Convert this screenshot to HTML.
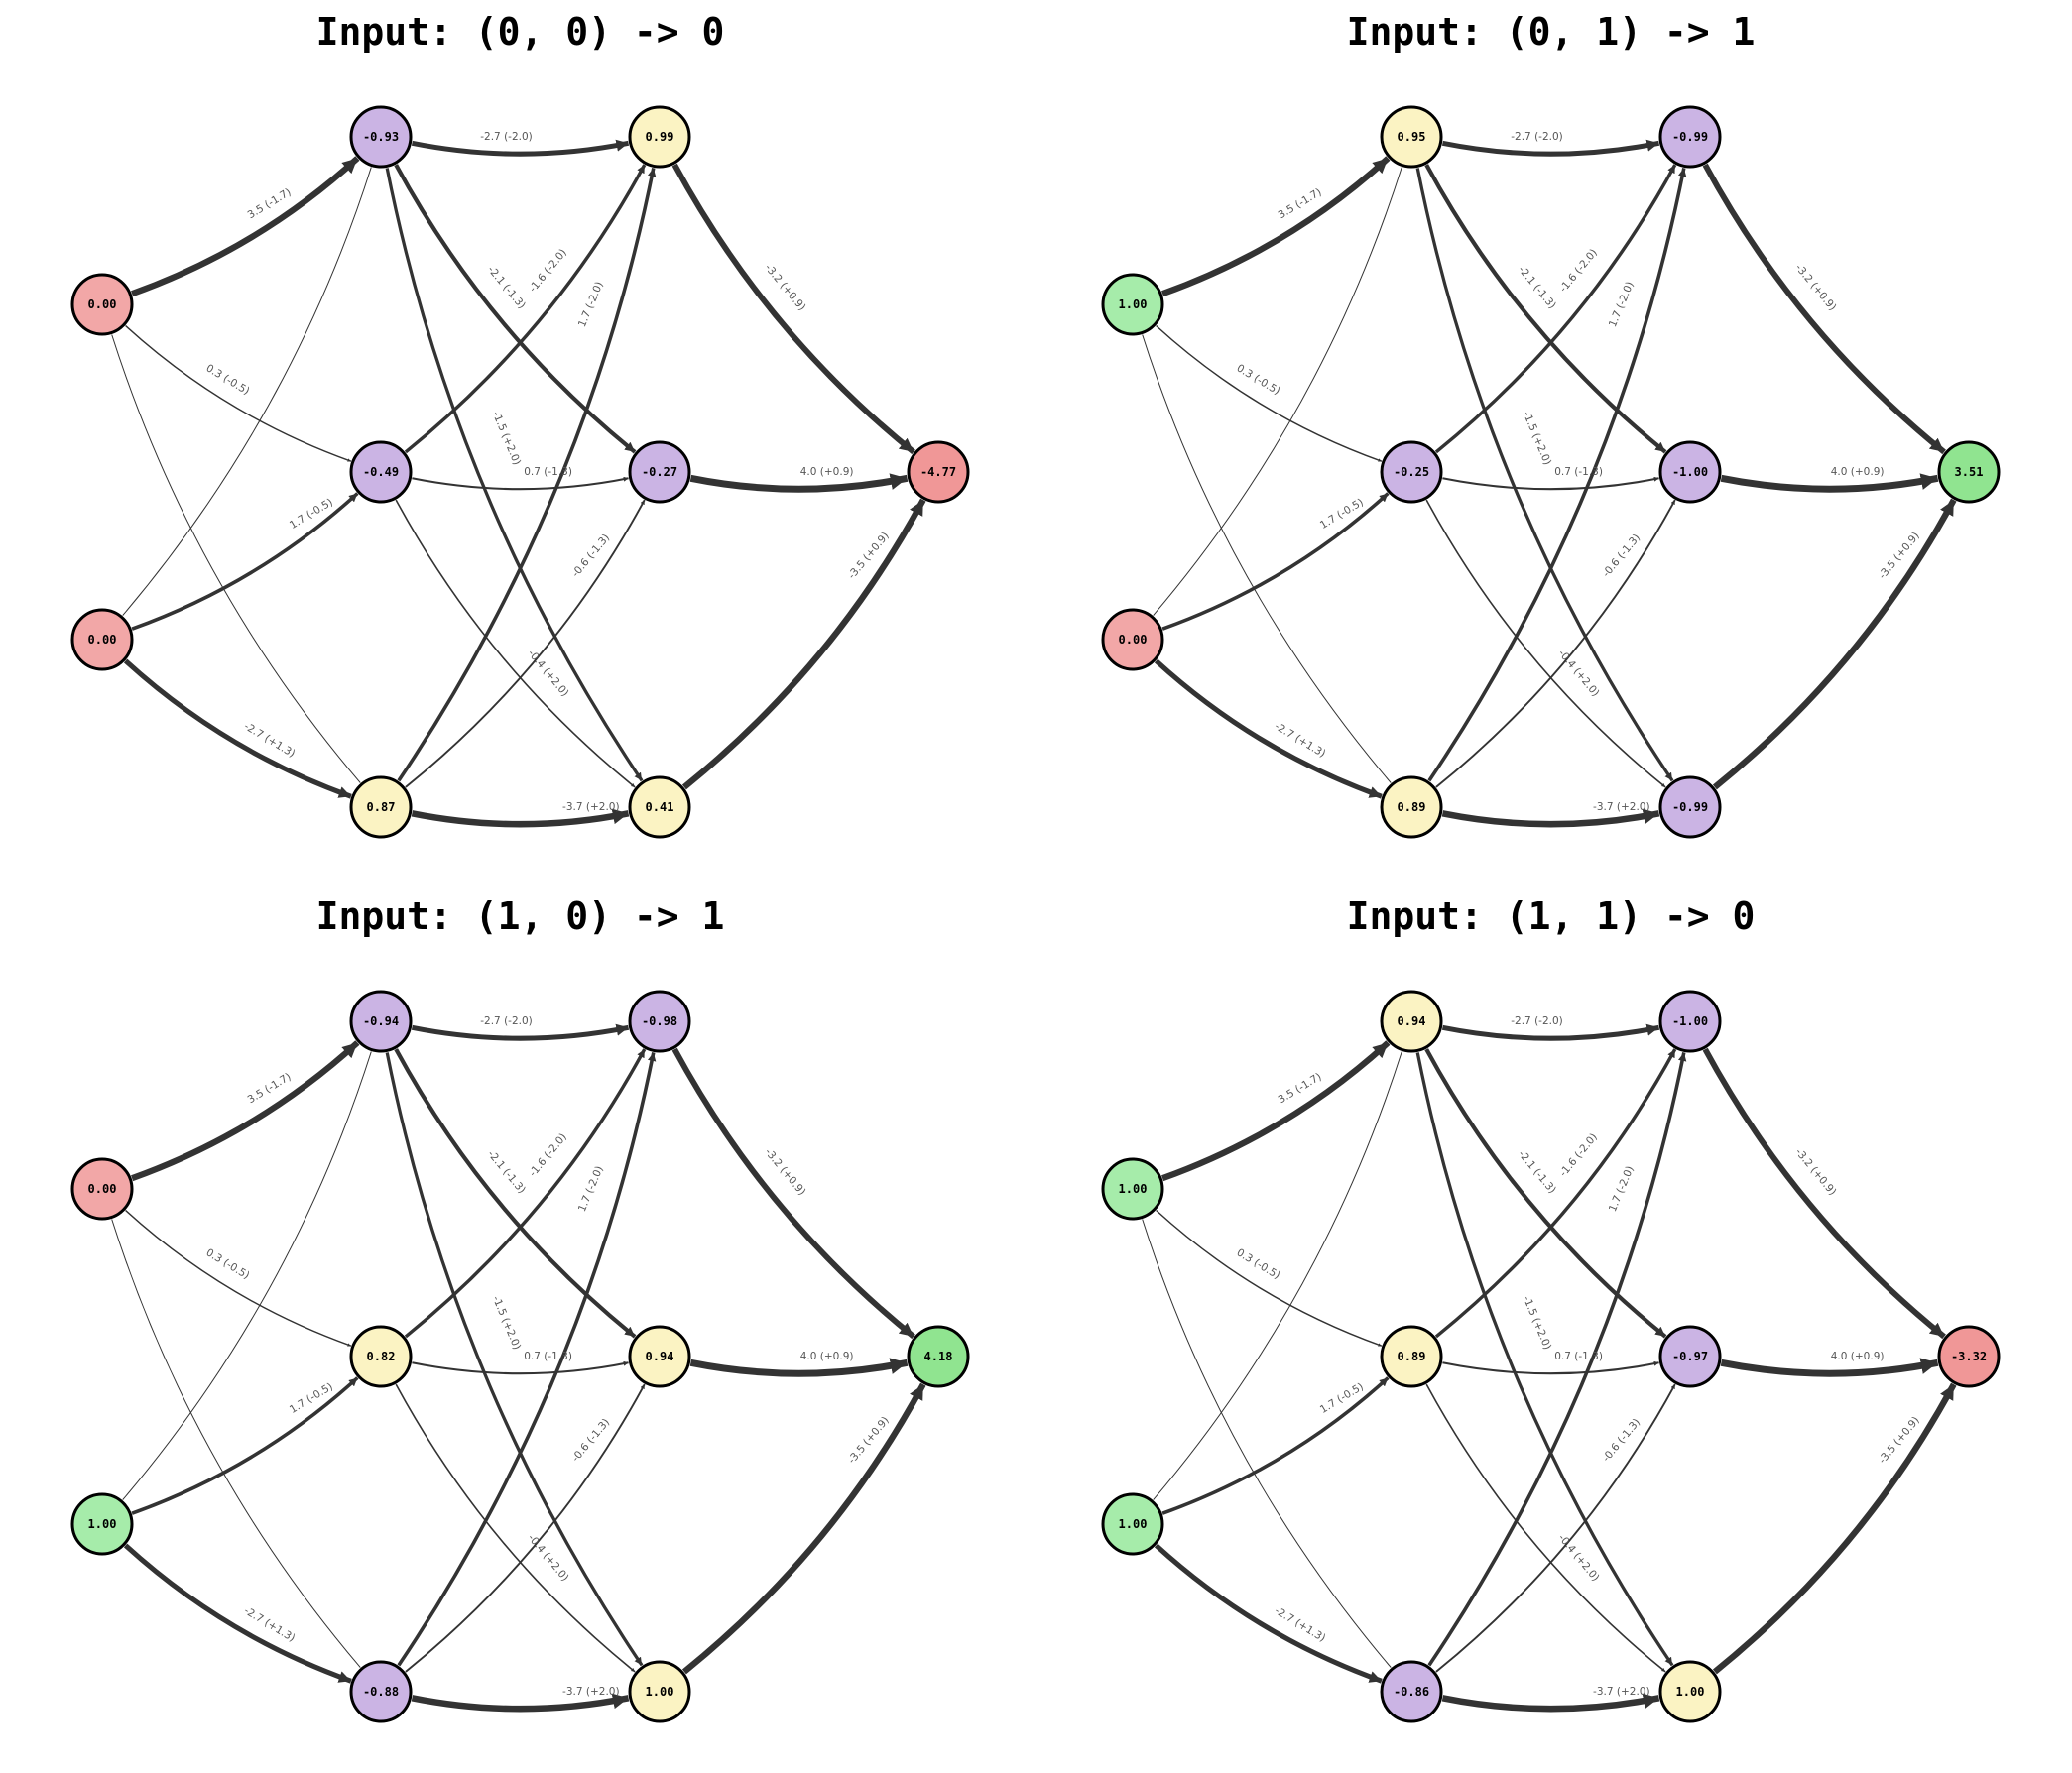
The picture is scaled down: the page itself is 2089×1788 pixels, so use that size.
<!DOCTYPE html>
<html><head><meta charset="utf-8"><style>
html,body{margin:0;padding:0;background:#fff;}
svg{display:block;}
.t{font-family:"DejaVu Sans Mono","Liberation Mono",monospace;font-weight:bold;font-size:38px;fill:#000;}
.n{font-family:"DejaVu Sans Mono","Liberation Mono",monospace;font-weight:bold;font-size:12px;fill:#000;}
.l{font-family:"DejaVu Sans","Liberation Sans",sans-serif;font-size:10.5px;fill:#555;}
.e{fill:none;stroke:#333;}
</style></head><body>
<svg width="2089" height="1788" viewBox="0 0 2089 1788" xmlns="http://www.w3.org/2000/svg">
<defs>
<marker id="ah" viewBox="0 0 10 10" refX="10" refY="5" markerWidth="2.4" markerHeight="2.4" markerUnits="strokeWidth" orient="auto">
<path d="M0,0 L10,5 L0,10 z" fill="#333"/>
</marker>
<g id="edges">
<path class="e" stroke-width="6.25" marker-end="url(#ah)" d="M133.1,296.2 Q260.4,250.6 360.4,159.5"/>
<path class="e" stroke-width="1.45" marker-end="url(#ah)" d="M126.6,328.5 Q226.6,419.6 353.9,465.2"/>
<path class="e" stroke-width="1" d="M112.7,337.5 Q192.8,588.6 363.3,789.6"/>
<path class="e" stroke-width="1" d="M123.7,620.6 Q294.2,419.6 374.3,168.5"/>
<path class="e" stroke-width="3.55" marker-end="url(#ah)" d="M133.1,634.2 Q260.4,588.6 360.4,497.5"/>
<path class="e" stroke-width="5.05" marker-end="url(#ah)" d="M126.6,666.5 Q226.6,757.6 353.9,803.2"/>
<path class="e" stroke-width="5.05" marker-end="url(#ah)" d="M415.4,144.3 Q524.5,166.1 633.6,144.3"/>
<path class="e" stroke-width="4.15" marker-end="url(#ah)" d="M399.2,166.1 Q490.7,335.1 640.1,455.9"/>
<path class="e" stroke-width="3.25" marker-end="url(#ah)" d="M390.2,169.4 Q456.9,504.1 647.1,787.4"/>
<path class="e" stroke-width="3.4" marker-end="url(#ah)" d="M408.9,455.9 Q558.3,335.1 649.8,166.1"/>
<path class="e" stroke-width="2.05" marker-end="url(#ah)" d="M415.4,482.3 Q524.5,504.1 633.6,482.3"/>
<path class="e" stroke-width="1.6" marker-end="url(#ah)" d="M399.2,504.1 Q490.7,673.1 640.1,793.9"/>
<path class="e" stroke-width="3.55" marker-end="url(#ah)" d="M401.9,787.4 Q592.1,504.1 658.8,169.4"/>
<path class="e" stroke-width="1.9" marker-end="url(#ah)" d="M408.9,793.9 Q558.3,673.1 649.8,504.1"/>
<path class="e" stroke-width="6.55" marker-end="url(#ah)" d="M415.4,820.3 Q524.5,842.1 633.6,820.3"/>
<path class="e" stroke-width="5.8" marker-end="url(#ah)" d="M680.2,166.1 Q771.7,335.1 921.1,455.9"/>
<path class="e" stroke-width="7" marker-end="url(#ah)" d="M696.4,482.3 Q805.5,504.1 914.6,482.3"/>
<path class="e" stroke-width="6.25" marker-end="url(#ah)" d="M689.9,793.9 Q839.3,673.1 930.8,504.1"/>
</g>
</defs>

<!-- Panel 1 -->
<g transform="translate(0,0)">
<text class="t" x="524.5" y="45" text-anchor="middle">Input: (0, 0) -&gt; 0</text>
<use href="#edges"/>
<g text-anchor="middle" dominant-baseline="central" class="l">
<text transform="translate(271.6,205.6) rotate(-31)">3.5 (-1.7)</text>
<text transform="translate(229.5,383) rotate(31)">0.3 (-0.5)</text>
<text transform="translate(313.8,518.2) rotate(-31)">1.7 (-0.5)</text>
<text transform="translate(271.6,746.4) rotate(31)">-2.7 (+1.3)</text>
<text transform="translate(510.5,138)">-2.7 (-2.0)</text>
<text transform="translate(510.5,290) rotate(50.3)">-2.1 (-1.3)</text>
<text transform="translate(510.5,442) rotate(67.4)">-1.5 (+2.0)</text>
<text transform="translate(552.6,273) rotate(-50.3)">-1.6 (-2.0)</text>
<text transform="translate(552.6,476)">0.7 (-1.3)</text>
<text transform="translate(552.6,679) rotate(50.3)">-0.4 (+2.0)</text>
<text transform="translate(595.8,307) rotate(-67.4)">1.7 (-2.0)</text>
<text transform="translate(595.8,560.5) rotate(-50.3)">-0.6 (-1.3)</text>
<text transform="translate(595.8,814)">-3.7 (+2.0)</text>
<text transform="translate(791.5,290) rotate(50.3)">-3.2 (+0.9)</text>
<text transform="translate(833.6,476)">4.0 (+0.9)</text>
<text transform="translate(875.8,560.5) rotate(-50.3)">-3.5 (+0.9)</text>
</g>
<g stroke="#000" stroke-width="3">
<circle cx="103" cy="307" r="30" fill="#f2a7a7"/><circle cx="103" cy="645" r="30" fill="#f2a7a7"/>
<circle cx="384" cy="138" r="30" fill="#cbb4e4"/><circle cx="384" cy="476" r="30" fill="#cbb4e4"/><circle cx="384" cy="814" r="30" fill="#fbf3c3"/>
<circle cx="665" cy="138" r="30" fill="#fbf3c3"/><circle cx="665" cy="476" r="30" fill="#cbb4e4"/><circle cx="665" cy="814" r="30" fill="#fbf3c3"/>
<circle cx="946" cy="476" r="30" fill="#f09797"/>
</g>
<g class="n" text-anchor="middle" dominant-baseline="central">
<text x="103" y="307">0.00</text><text x="103" y="645">0.00</text>
<text x="384" y="138">-0.93</text><text x="384" y="476">-0.49</text><text x="384" y="814">0.87</text>
<text x="665" y="138">0.99</text><text x="665" y="476">-0.27</text><text x="665" y="814">0.41</text>
<text x="946" y="476">-4.77</text>
</g>
</g>

<!-- Panel 2 -->
<g transform="translate(1039,0)">
<text class="t" x="524.5" y="45" text-anchor="middle">Input: (0, 1) -&gt; 1</text>
<use href="#edges"/>
<g text-anchor="middle" dominant-baseline="central" class="l">
<text transform="translate(271.6,205.6) rotate(-31)">3.5 (-1.7)</text>
<text transform="translate(229.5,383) rotate(31)">0.3 (-0.5)</text>
<text transform="translate(313.8,518.2) rotate(-31)">1.7 (-0.5)</text>
<text transform="translate(271.6,746.4) rotate(31)">-2.7 (+1.3)</text>
<text transform="translate(510.5,138)">-2.7 (-2.0)</text>
<text transform="translate(510.5,290) rotate(50.3)">-2.1 (-1.3)</text>
<text transform="translate(510.5,442) rotate(67.4)">-1.5 (+2.0)</text>
<text transform="translate(552.6,273) rotate(-50.3)">-1.6 (-2.0)</text>
<text transform="translate(552.6,476)">0.7 (-1.3)</text>
<text transform="translate(552.6,679) rotate(50.3)">-0.4 (+2.0)</text>
<text transform="translate(595.8,307) rotate(-67.4)">1.7 (-2.0)</text>
<text transform="translate(595.8,560.5) rotate(-50.3)">-0.6 (-1.3)</text>
<text transform="translate(595.8,814)">-3.7 (+2.0)</text>
<text transform="translate(791.5,290) rotate(50.3)">-3.2 (+0.9)</text>
<text transform="translate(833.6,476)">4.0 (+0.9)</text>
<text transform="translate(875.8,560.5) rotate(-50.3)">-3.5 (+0.9)</text>
</g>
<g stroke="#000" stroke-width="3">
<circle cx="103" cy="307" r="30" fill="#a6ecaa"/><circle cx="103" cy="645" r="30" fill="#f2a7a7"/>
<circle cx="384" cy="138" r="30" fill="#fbf3c3"/><circle cx="384" cy="476" r="30" fill="#cbb4e4"/><circle cx="384" cy="814" r="30" fill="#fbf3c3"/>
<circle cx="665" cy="138" r="30" fill="#cbb4e4"/><circle cx="665" cy="476" r="30" fill="#cbb4e4"/><circle cx="665" cy="814" r="30" fill="#cbb4e4"/>
<circle cx="946" cy="476" r="30" fill="#90e490"/>
</g>
<g class="n" text-anchor="middle" dominant-baseline="central">
<text x="103" y="307">1.00</text><text x="103" y="645">0.00</text>
<text x="384" y="138">0.95</text><text x="384" y="476">-0.25</text><text x="384" y="814">0.89</text>
<text x="665" y="138">-0.99</text><text x="665" y="476">-1.00</text><text x="665" y="814">-0.99</text>
<text x="946" y="476">3.51</text>
</g>
</g>

<!-- Panel 3 -->
<g transform="translate(0,892)">
<text class="t" x="524.5" y="45" text-anchor="middle">Input: (1, 0) -&gt; 1</text>
<use href="#edges"/>
<g text-anchor="middle" dominant-baseline="central" class="l">
<text transform="translate(271.6,205.6) rotate(-31)">3.5 (-1.7)</text>
<text transform="translate(229.5,383) rotate(31)">0.3 (-0.5)</text>
<text transform="translate(313.8,518.2) rotate(-31)">1.7 (-0.5)</text>
<text transform="translate(271.6,746.4) rotate(31)">-2.7 (+1.3)</text>
<text transform="translate(510.5,138)">-2.7 (-2.0)</text>
<text transform="translate(510.5,290) rotate(50.3)">-2.1 (-1.3)</text>
<text transform="translate(510.5,442) rotate(67.4)">-1.5 (+2.0)</text>
<text transform="translate(552.6,273) rotate(-50.3)">-1.6 (-2.0)</text>
<text transform="translate(552.6,476)">0.7 (-1.3)</text>
<text transform="translate(552.6,679) rotate(50.3)">-0.4 (+2.0)</text>
<text transform="translate(595.8,307) rotate(-67.4)">1.7 (-2.0)</text>
<text transform="translate(595.8,560.5) rotate(-50.3)">-0.6 (-1.3)</text>
<text transform="translate(595.8,814)">-3.7 (+2.0)</text>
<text transform="translate(791.5,290) rotate(50.3)">-3.2 (+0.9)</text>
<text transform="translate(833.6,476)">4.0 (+0.9)</text>
<text transform="translate(875.8,560.5) rotate(-50.3)">-3.5 (+0.9)</text>
</g>
<g stroke="#000" stroke-width="3">
<circle cx="103" cy="307" r="30" fill="#f2a7a7"/><circle cx="103" cy="645" r="30" fill="#a6ecaa"/>
<circle cx="384" cy="138" r="30" fill="#cbb4e4"/><circle cx="384" cy="476" r="30" fill="#fbf3c3"/><circle cx="384" cy="814" r="30" fill="#cbb4e4"/>
<circle cx="665" cy="138" r="30" fill="#cbb4e4"/><circle cx="665" cy="476" r="30" fill="#fbf3c3"/><circle cx="665" cy="814" r="30" fill="#fbf3c3"/>
<circle cx="946" cy="476" r="30" fill="#90e490"/>
</g>
<g class="n" text-anchor="middle" dominant-baseline="central">
<text x="103" y="307">0.00</text><text x="103" y="645">1.00</text>
<text x="384" y="138">-0.94</text><text x="384" y="476">0.82</text><text x="384" y="814">-0.88</text>
<text x="665" y="138">-0.98</text><text x="665" y="476">0.94</text><text x="665" y="814">1.00</text>
<text x="946" y="476">4.18</text>
</g>
</g>

<!-- Panel 4 -->
<g transform="translate(1039,892)">
<text class="t" x="524.5" y="45" text-anchor="middle">Input: (1, 1) -&gt; 0</text>
<use href="#edges"/>
<g text-anchor="middle" dominant-baseline="central" class="l">
<text transform="translate(271.6,205.6) rotate(-31)">3.5 (-1.7)</text>
<text transform="translate(229.5,383) rotate(31)">0.3 (-0.5)</text>
<text transform="translate(313.8,518.2) rotate(-31)">1.7 (-0.5)</text>
<text transform="translate(271.6,746.4) rotate(31)">-2.7 (+1.3)</text>
<text transform="translate(510.5,138)">-2.7 (-2.0)</text>
<text transform="translate(510.5,290) rotate(50.3)">-2.1 (-1.3)</text>
<text transform="translate(510.5,442) rotate(67.4)">-1.5 (+2.0)</text>
<text transform="translate(552.6,273) rotate(-50.3)">-1.6 (-2.0)</text>
<text transform="translate(552.6,476)">0.7 (-1.3)</text>
<text transform="translate(552.6,679) rotate(50.3)">-0.4 (+2.0)</text>
<text transform="translate(595.8,307) rotate(-67.4)">1.7 (-2.0)</text>
<text transform="translate(595.8,560.5) rotate(-50.3)">-0.6 (-1.3)</text>
<text transform="translate(595.8,814)">-3.7 (+2.0)</text>
<text transform="translate(791.5,290) rotate(50.3)">-3.2 (+0.9)</text>
<text transform="translate(833.6,476)">4.0 (+0.9)</text>
<text transform="translate(875.8,560.5) rotate(-50.3)">-3.5 (+0.9)</text>
</g>
<g stroke="#000" stroke-width="3">
<circle cx="103" cy="307" r="30" fill="#a6ecaa"/><circle cx="103" cy="645" r="30" fill="#a6ecaa"/>
<circle cx="384" cy="138" r="30" fill="#fbf3c3"/><circle cx="384" cy="476" r="30" fill="#fbf3c3"/><circle cx="384" cy="814" r="30" fill="#cbb4e4"/>
<circle cx="665" cy="138" r="30" fill="#cbb4e4"/><circle cx="665" cy="476" r="30" fill="#cbb4e4"/><circle cx="665" cy="814" r="30" fill="#fbf3c3"/>
<circle cx="946" cy="476" r="30" fill="#f09797"/>
</g>
<g class="n" text-anchor="middle" dominant-baseline="central">
<text x="103" y="307">1.00</text><text x="103" y="645">1.00</text>
<text x="384" y="138">0.94</text><text x="384" y="476">0.89</text><text x="384" y="814">-0.86</text>
<text x="665" y="138">-1.00</text><text x="665" y="476">-0.97</text><text x="665" y="814">1.00</text>
<text x="946" y="476">-3.32</text>
</g>
</g>
</svg>
</body></html>
